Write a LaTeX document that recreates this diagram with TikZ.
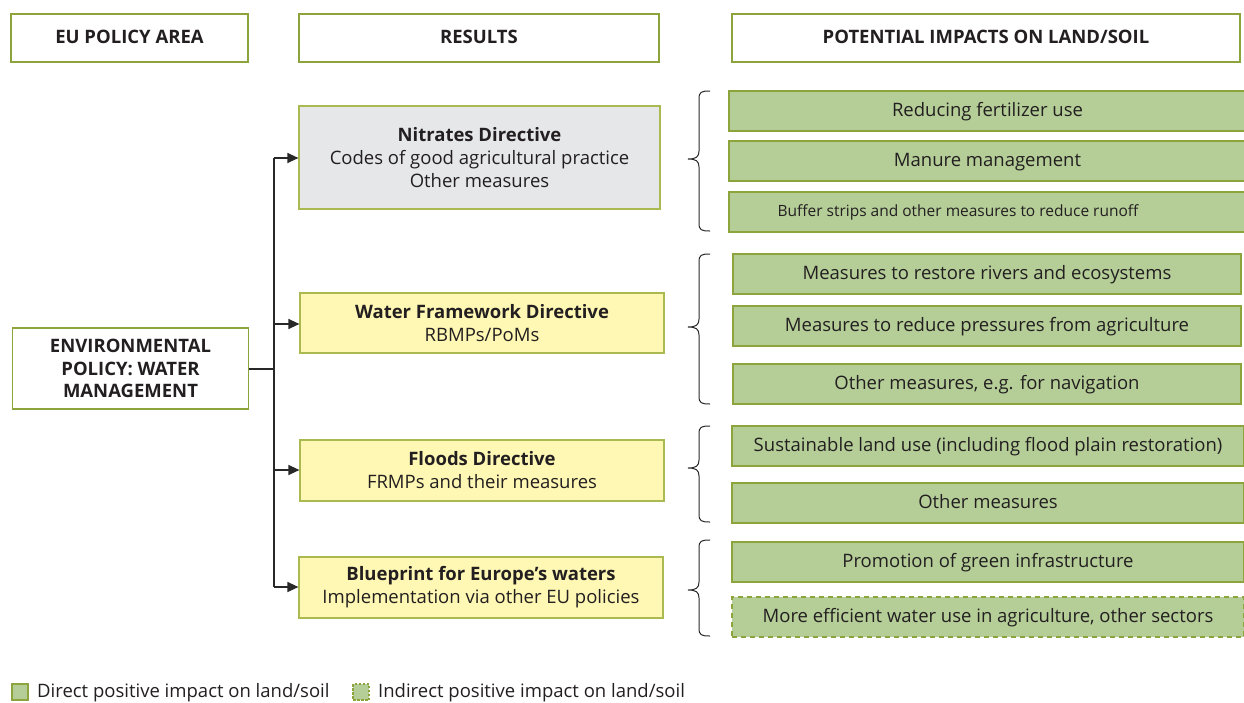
\documentclass[tikz,border=0pt]{standalone}
\usepackage{fontspec}
\setmainfont{Open Sans}
\usetikzlibrary{arrows.meta}
\definecolor{olive}{RGB}{141,163,59}
\definecolor{ylborder}{RGB}{170,185,80}
\definecolor{gfill}{RGB}{181,206,152}
\definecolor{grayfill}{RGB}{230,231,232}
\definecolor{yfill}{RGB}{255,248,180}
\definecolor{txt}{RGB}{35,31,32}
\definecolor{conn}{RGB}{40,40,40}
\tikzset{
  every node/.style={text=txt},
  hdr/.style={draw=olive, line width=1.2pt, fill=white, inner sep=0pt, font=\fontsize{18.5}{22}\selectfont\bfseries},
  oneline/.style={text height=13pt, text depth=2pt},
  res/.style={draw=ylborder, line width=1.2pt, inner sep=0pt, align=center, font=\fontsize{18.5}{23}\selectfont},
  imp/.style={draw=olive, line width=1.1pt, fill=gfill, inner sep=0pt, oneline, font=\fontsize{18.5}{22}\selectfont},
  impdash/.style={imp, dash pattern=on 5pt off 4pt},
  link/.style={draw=conn, line width=1.3pt},
  arr/.style={link, -{Triangle[length=11pt,width=10pt]}},
  brc/.style={draw=conn, line width=1pt},
}
\begin{document}
\begin{tikzpicture}[x=1pt,y=-1pt]
\useasboundingbox (0,0) rectangle (1244,702);
% headers
\node[hdr, oneline, minimum width=237, minimum height=48] (h1) at (129.5,38) {EU POLICY AREA};
\node[hdr, oneline, minimum width=360, minimum height=48] (h2) at (479,38) {RESULTS};
\node[hdr, oneline, minimum width=508, minimum height=48] (h3) at (986,38) {POTENTIAL IMPACTS ON LAND/SOIL};
% policy area
\node[hdr, minimum width=236, minimum height=81, align=center, font=\fontsize{18.5}{22.5}\selectfont\bfseries] (env) at (130.5,368.5) {ENVIRONMENTAL\\POLICY: WATER\\MANAGEMENT};
% results
\node[res, fill=grayfill, minimum width=361, minimum height=103] (r1) at (479.5,157.5) {\textbf{Nitrates Directive}\\Codes of good agricultural practice\\Other measures};
\node[res, fill=yfill, minimum width=364, minimum height=60] (r2) at (482,323) {\textbf{Water Framework Directive}\\RBMPs/PoMs};
\node[res, fill=yfill, minimum width=364, minimum height=61] (r3) at (482,470.5) {\textbf{Floods Directive}\\FRMPs and their measures};
\node[res, fill=yfill, minimum width=364, minimum height=61] (r4) at (481,587.5) {\textbf{Blueprint for Europe’s waters}\\Implementation via other EU policies};
% connectors
\coordinate (t1) at (274,158);
\coordinate (t4) at (274,587);
\coordinate (te) at (274,369);
\draw[link] (env.east |- te) -- (te);
\draw[link] (t1) -- (t4);
\draw[arr] (t1) -- (t1 -| r1.west);
\draw[arr] (274,324) -- (274,324 -| r2.west);
\draw[arr] (274,470) -- (274,470 -| r3.west);
\draw[arr] (t4) -- (t4 -| r4.west);
% impacts group 1
\node[imp, minimum width=517, minimum height=40] (a1) at (987.5,111) {Reducing fertilizer use};
\node[imp, minimum width=517, minimum height=40] (a2) at (987.5,161) {Manure management};
\node[imp, minimum width=517, minimum height=40] (a3) at (987.5,212) {};
\node[font=\fontsize{15.5}{18}\selectfont, inner sep=0pt, text height=11pt, text depth=2pt] (a3t) at (958,212) {Buffer strips and other measures to reduce runoff};
% group 2
\node[imp, minimum width=508, minimum height=40] (b1) at (987,274) {Measures to restore rivers and ecosystems};
\node[imp, minimum width=508, minimum height=40] (b2) at (987,326) {Measures to reduce pressures from agriculture};
\node[imp, minimum width=508, minimum height=40] (b3) at (987,384) {Other measures, e.g. for navigation};
% group 3
\node[imp, minimum width=512, minimum height=40] (c1) at (988,446) {Sustainable land use (including flood plain restoration)};
\node[imp, minimum width=512, minimum height=40] (c2) at (988,503) {Other measures};
% group 4
\node[imp, minimum width=512, minimum height=40] (d1) at (988,562) {Promotion of green infrastructure};
\node[impdash, minimum width=512, minimum height=40] (d2) at (988,617) {More efficient water use in agriculture, other sectors};
% braces
\def\bracket#1#2#3{%
  \draw[brc] (710,#1) .. controls (701,#1) and (699,#1+1) .. (699,#1+8) -- (699,#3-8)
    .. controls (699,#3-2) and (696,#3) .. (688,#3)
    .. controls (696,#3) and (699,#3+2) .. (699,#3+8) -- (699,#2-8)
    .. controls (699,#2-1) and (701,#2) .. (710,#2);}
\bracket{91}{231}{159}
\bracket{254}{404}{327}
\bracket{426}{522}{468}
\bracket{540}{636}{590}
% legend
\node[draw=olive, line width=1.2pt, fill=gfill, minimum size=16, inner sep=0pt] (l1) at (20,692) {};
\node[anchor=west, inner sep=0pt, oneline, font=\fontsize{18.5}{22}\selectfont] (l1t) at (37,692) {Direct positive impact on land/soil};
\node[draw=olive, line width=1.2pt, fill=gfill, dash pattern=on 2.5pt off 1.5pt, minimum size=16, inner sep=0pt] (l2) at (361,692) {};
\node[anchor=west, inner sep=0pt, oneline, font=\fontsize{18.5}{22}\selectfont] (l2t) at (378,692) {Indirect positive impact on land/soil};
\end{tikzpicture}
\end{document}
